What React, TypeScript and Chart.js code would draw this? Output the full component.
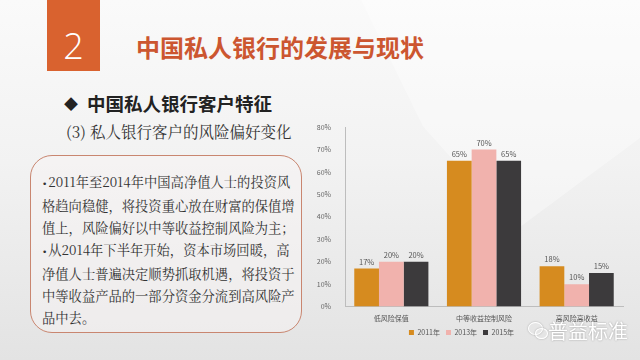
import React, { useEffect, useRef } from "react";
import { Chart, registerables } from "chart.js";

Chart.register(...registerables);

const categories = ["低风险保值", "中等收益控制风险", "高风险高收益"];
const seriesNames = ["2011年", "2013年", "2015年"];
const values2011 = [17, 65, 18];
const values2013 = [20, 70, 10];
const values2015 = [20, 65, 15];
const seriesColors = ["#D68B1F", "#F1B2AD", "#3C3A3C"];
const yTicksMax = 80;
const yStep = 10;

const textLines = [
  ["•", "2011年至2014年中国高净值人士的投资风"],
  ["", "格趋向稳健，将投资重心放在财富的保值增"],
  ["", "值上，风险偏好以中等收益控制风险为主；"],
  ["•", "从2014年下半年开始，资本市场回暖，高"],
  ["", "净值人士普遍决定顺势抓取机遇，将投资于"],
  ["", "中等收益产品的一部分资金分流到高风险产"],
  ["", "品中去。"],
];

const FONT = "'Noto Sans CJK SC', 'Noto Sans', sans-serif";
const SERIF = "'Noto Serif CJK SC', 'Noto Sans CJK SC', serif";

const valueLabelPlugin = {
  id: "valueLabels",
  afterDatasetsDraw(chart: any) {
    const ctx = chart.ctx;
    ctx.save();
    ctx.font = `7.5px ${FONT}`;
    ctx.fillStyle = "#555";
    ctx.textAlign = "center";
    ctx.textBaseline = "bottom";
    chart.data.datasets.forEach((ds: any, i: number) => {
      const meta = chart.getDatasetMeta(i);
      meta.data.forEach((bar: any, j: number) => {
        ctx.fillText(ds.data[j] + "%", bar.x, bar.y - 3);
      });
    });
    ctx.restore();
  },
};

function BarChart() {
  const ref = useRef<HTMLCanvasElement | null>(null);
  useEffect(() => {
    if (!ref.current) return;
    const chart = new Chart(ref.current, {
      type: "bar",
      data: {
        labels: categories,
        datasets: [
          { label: seriesNames[0], data: values2011, backgroundColor: seriesColors[0] },
          { label: seriesNames[1], data: values2013, backgroundColor: seriesColors[1] },
          { label: seriesNames[2], data: values2015, backgroundColor: seriesColors[2] },
        ],
      },
      options: {
        animation: false,
        responsive: false,
        maintainAspectRatio: false,
        layout: { padding: { top: 17, right: 17, left: 0, bottom: 4 } },
        datasets: { bar: { categoryPercentage: 0.8, barPercentage: 1.0 } },
        plugins: {
          legend: {
            position: "bottom",
            labels: {
              boxWidth: 5,
              boxHeight: 5,
              padding: 6,
              color: "#555",
              font: { size: 7, family: FONT },
            },
          },
          tooltip: { enabled: false },
        },
        scales: {
          x: {
            grid: { display: false },
            border: { display: true, color: "#BDBDBD" },
            ticks: { color: "#555", font: { size: 7, family: FONT }, padding: 0 },
          },
          y: {
            min: 0,
            max: yTicksMax,
            grid: { display: false },
            border: { display: true, color: "#BDBDBD" },
            ticks: {
              stepSize: yStep,
              color: "#666",
              font: { size: 7, family: FONT },
              padding: 6,
              callback: (v: any) => v + "%",
            },
            afterFit: (s: any) => {
              s.width = 45;
            },
          },
        },
      },
      plugins: [valueLabelPlugin],
    });
    return () => chart.destroy();
  }, []);
  return <canvas ref={ref} width={340} height={240} style={{ display: "block" }} />;
}

export default function App() {
  return (
    <div
      style={{
        position: "fixed",
        left: 0,
        top: 0,
        width: 640,
        height: 360,
        overflow: "hidden",
        background: "linear-gradient(180deg, #FAFAFA 0%, #F2F2F2 45%, #E3E3E3 100%)",
        fontFamily: FONT,
      }}
    >
      <div
        style={{
          position: "absolute",
          left: 330,
          top: 0,
          width: 310,
          height: 230,
          background: "rgba(255,255,255,0.35)",
          clipPath: "polygon(10% 0, 100% 0, 100% 60%, 60% 100%, 30% 55%)",
        }}
      />
      <div
        style={{
          position: "absolute",
          left: 47,
          top: 0,
          width: 53,
          height: 71,
          background: "#D9622F",
          color: "#fff",
          fontSize: 36,
          fontWeight: 300,
          display: "flex",
          alignItems: "flex-end",
          justifyContent: "center",
          paddingBottom: 1,
          boxSizing: "border-box",
          fontFamily: "'Open Sans', sans-serif",
        }}
      >
        2
      </div>
      <div
        style={{
          position: "absolute",
          left: 136,
          top: 32,
          fontSize: 24,
          fontWeight: 700,
          color: "#CC5630",
          whiteSpace: "nowrap",
          lineHeight: "30px",
        }}
      >
        中国私人银行的发展与现状
      </div>
      <div
        style={{
          position: "absolute",
          left: 64,
          top: 90,
          fontSize: 18.5,
          fontWeight: 700,
          color: "#222",
          whiteSpace: "nowrap",
          lineHeight: "26px",
        }}
      >
        <span style={{ fontSize: 14, marginRight: 9, position: "relative", top: -2 }}>◆</span>
        中国私人银行客户特征
      </div>
      <div
        style={{
          position: "absolute",
          left: 66,
          top: 120,
          fontSize: 15.5,
          color: "#333",
          whiteSpace: "nowrap",
          lineHeight: "22px",
          fontFamily: SERIF,
        }}
      >
        (3) 私人银行客户的风险偏好变化
      </div>
      <div
        style={{
          position: "absolute",
          left: 30,
          top: 155,
          width: 272,
          height: 178,
          boxSizing: "border-box",
          border: "1.5px solid #C98670",
          borderRadius: 22,
          background: "rgba(248,244,243,0.5)",
        }}
      />
      <div
        style={{
          position: "absolute",
          left: 42,
          top: 171,
          fontSize: 13.3,
          lineHeight: "22px",
          color: "#333",
          whiteSpace: "nowrap",
          fontFamily: SERIF,
        }}
      >
        {textLines.map((l, i) => (
          <div key={i}>
            {l[0] ? (
              <span style={{ fontFamily: "'DejaVu Sans', sans-serif", fontSize: 9, marginRight: 1 }}>
                {l[0]}
              </span>
            ) : null}
            {l[1]}
          </div>
        ))}
      </div>
      <div style={{ position: "absolute", left: 300, top: 110 }}>
        <BarChart />
      </div>
      <div
        style={{
          position: "absolute",
          left: 548,
          top: 318,
          fontSize: 20,
          color: "#FFFFFF",
          textShadow: "0 0 2px rgba(0,0,0,0.35)",
          whiteSpace: "nowrap",
          lineHeight: "26px",
        }}
      >
        普益标准
      </div>
      <div
        style={{
          position: "absolute",
          left: 528,
          top: 322,
          width: 13,
          height: 11,
          borderRadius: "50%",
          border: "1.5px solid #fff",
          boxShadow: "0 0 2px rgba(0,0,0,0.3)",
        }}
      />
      <div
        style={{
          position: "absolute",
          left: 535,
          top: 328,
          width: 11,
          height: 9,
          borderRadius: "50%",
          border: "1.5px solid #fff",
          boxShadow: "0 0 2px rgba(0,0,0,0.3)",
        }}
      />
    </div>
  );
}
